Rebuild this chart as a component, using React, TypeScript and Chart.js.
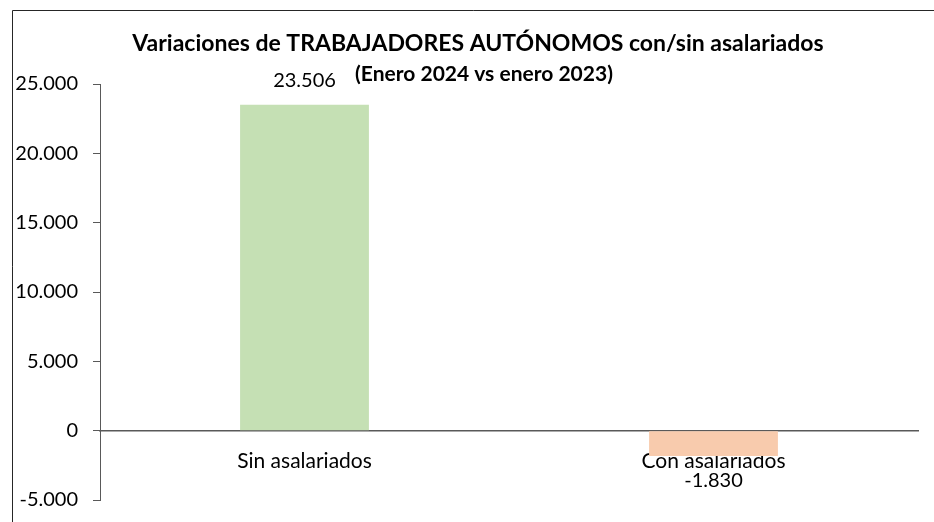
import React, { useEffect, useRef } from 'react';
import { Chart, registerables } from 'chart.js';

Chart.register(...registerables);

const categories = ['Sin asalariados', 'Con asalariados'];
const values = [23506, -1830];
const barColors = ['#C5E0B4', '#F8CBAD'];
const yMin = -5000;
const yMax = 25000;
const yStep = 5000;
const titleText = 'Variaciones de TRABAJADORES AUTÓNOMOS con/sin asalariados';
const subtitleText = '(Enero 2024 vs enero 2023)';

const FONT = 'Lato, "Open Sans", sans-serif';
const AXIS_COLOR = '#595959';

function fmt(v: number): string {
  const s = Math.abs(Math.round(v))
    .toString()
    .replace(/\B(?=(\d{3})+(?!\d))/g, '.');
  return (v < 0 ? '-' : '') + s;
}

const framePlugin = {
  id: 'frame',
  beforeDraw(chart: any) {
    const ctx = chart.ctx;
    ctx.save();
    ctx.strokeStyle = '#262626';
    ctx.lineWidth = 1;
    ctx.beginPath();
    ctx.moveTo(12.5, chart.height);
    ctx.lineTo(12.5, 10.5);
    ctx.lineTo(chart.width, 10.5);
    ctx.stroke();
    ctx.restore();
  },
};

const titlePlugin = {
  id: 'customTitle',
  afterDraw(chart: any) {
    const ctx = chart.ctx;
    ctx.save();
    ctx.fillStyle = '#000';
    ctx.textAlign = 'center';
    ctx.textBaseline = 'middle';
    ctx.font = `bold 23px ${FONT}`;
    ctx.fillText(titleText, 478, 44);
    ctx.font = `bold 21px ${FONT}`;
    ctx.fillText(subtitleText, 484, 74);
    ctx.restore();
  },
};

const dataLabelPlugin = {
  id: 'dataLabels',
  afterDatasetsDraw(chart: any) {
    const ctx = chart.ctx;
    const meta = chart.getDatasetMeta(0);
    ctx.save();
    ctx.fillStyle = '#000';
    ctx.textAlign = 'center';
    ctx.textBaseline = 'middle';
    ctx.font = `20px ${FONT}`;
    meta.data.forEach((bar: any, i: number) => {
      const v = values[i];
      const y = v >= 0 ? bar.y - 24 : bar.y + 25;
      ctx.fillText(fmt(v), bar.x, y);
    });
    ctx.restore();
  },
};

export default function App() {
  const ref = useRef<HTMLCanvasElement>(null);

  useEffect(() => {
    if (!ref.current) return;
    const chart = new Chart(ref.current, {
      type: 'bar',
      data: {
        labels: categories,
        datasets: [
          {
            data: values,
            backgroundColor: barColors,
            borderWidth: 0,
            barPercentage: 0.315,
            categoryPercentage: 1,
          },
        ],
      },
      options: {
        animation: false,
        responsive: false,
        maintainAspectRatio: false,
        layout: { padding: { left: 0, right: 16, top: 84, bottom: 22 } },
        plugins: {
          legend: { display: false },
          title: { display: false },
          tooltip: { enabled: false },
        },
        scales: {
          x: {
            position: { y: 0 } as any,
            grid: { display: false, drawTicks: false },
            border: { display: true, color: AXIS_COLOR, width: 1.5 },
            ticks: {
              color: '#000',
              padding: 18,
              font: { family: FONT, size: 21 },
              maxRotation: 0,
            },
            afterFit: (scale: any) => {
              scale.height = 0;
            },
          },
          y: {
            min: yMin,
            max: yMax,
            grid: {
              display: true,
              drawOnChartArea: false,
              drawTicks: true,
              tickLength: 7,
              color: AXIS_COLOR,
            },
            border: { display: true, color: AXIS_COLOR, width: 1 },
            ticks: {
              stepSize: yStep,
              color: '#000',
              padding: 15,
              font: { family: FONT, size: 20 },
              callback: (v: any) => fmt(Number(v)),
            },
            afterFit: (scale: any) => {
              scale.width = 100;
              scale.paddingTop = 0;
              scale.paddingBottom = 0;
            },
          },
        },
      },
      plugins: [framePlugin, titlePlugin, dataLabelPlugin],
    });
    return () => chart.destroy();
  }, []);

  return (
    <div style={{ position: 'fixed', left: 0, top: 0, width: 934, height: 522, background: '#fff' }}>
      <canvas ref={ref} width={934} height={522} style={{ display: 'block' }} />
    </div>
  );
}
